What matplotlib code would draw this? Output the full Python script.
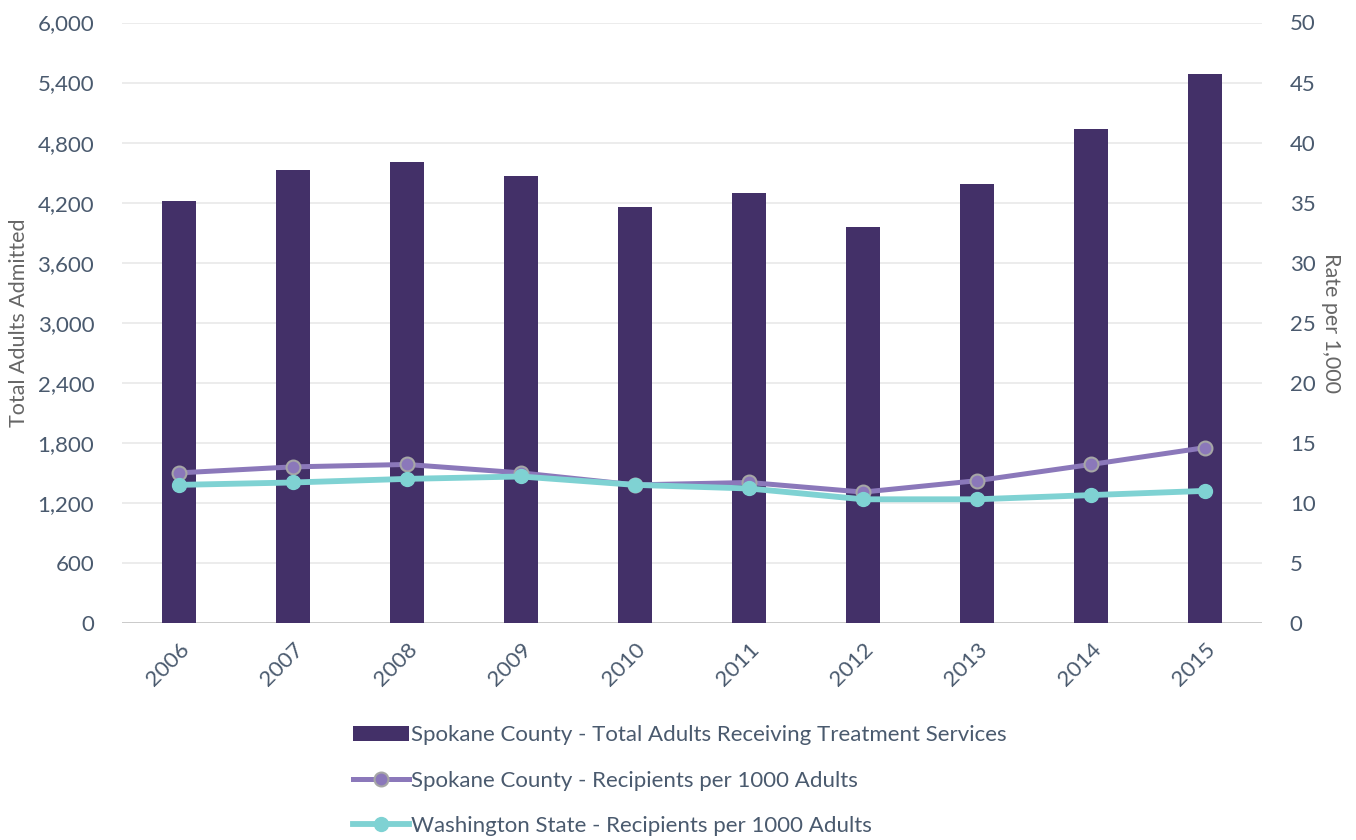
import matplotlib
matplotlib.use("Agg")
import matplotlib.pyplot as plt
import numpy as np

years = ["2006", "2007", "2008", "2009", "2010", "2011", "2012", "2013", "2014", "2015"]
total_adults = [4220, 4530, 4607, 4467, 4160, 4300, 3953, 4383, 4937, 5490]
spokane_rate = [12.5, 13.0, 13.2, 12.5, 11.5, 11.7, 10.9, 11.85, 13.2, 14.6]
wa_rate = [11.5, 11.7, 12.0, 12.2, 11.5, 11.2, 10.3, 10.3, 10.65, 11.0]

left_ticks = [0, 600, 1200, 1800, 2400, 3000, 3600, 4200, 4800, 5400, 6000]
right_ticks = [0, 5, 10, 15, 20, 25, 30, 35, 40, 45, 50]

bar_label = "Spokane County - Total Adults Receiving Treatment Services"
spk_label = "Spokane County - Recipients per 1000 Adults"
wa_label = "Washington State - Recipients per 1000 Adults"

plt.rcParams['font.family'] = ['Lato', 'DejaVu Sans']
tick_color = "#4A5A6E"
label_color = "#666666"
fs = 16

fig = plt.figure(figsize=(13.56, 8.4), dpi=100)
ax = fig.add_axes([122/1356, 1-623/840, (1262-122)/1356, (623-22.5)/840])
ax2 = ax.twinx()

x = np.arange(len(years))
bars = ax.bar(x, total_adults, width=0.30, color="#433068", zorder=2, label=bar_label)
ax.set_xlim(-0.5, len(years)-0.5)
ax.set_ylim(0, 6000)
ax.set_yticks(left_ticks)
ax.set_yticklabels([f"{v:,}" for v in left_ticks])
ax.grid(axis='y', color="#EBEBEB", linewidth=1.3, zorder=0)
ax.set_axisbelow(True)
ax.set_xticks(x)
ax.set_xticklabels(years, rotation=45, ha='right', rotation_mode='anchor')

l1, = ax2.plot(x, spokane_rate, color="#8B78BA", linewidth=3.6, marker='o', markersize=10,
               markerfacecolor="#8B78BA", markeredgecolor="#A6A6A6", markeredgewidth=1.5,
               label=spk_label, zorder=3)
l2, = ax2.plot(x, wa_rate, color="#7FD2D3", linewidth=4.2, marker='o', markersize=10,
               markerfacecolor="#7FD2D3", markeredgecolor="#7FD2D3",
               label=wa_label, zorder=4)
ax2.set_ylim(0, 50)
ax2.set_yticks(right_ticks)

for a in (ax, ax2):
    for s in a.spines.values():
        s.set_visible(False)
    a.tick_params(axis='both', length=0, labelsize=fs, labelcolor=tick_color)
ax.tick_params(axis='y', pad=20)
ax.tick_params(axis='x', pad=12)
ax2.tick_params(axis='y', pad=20)
ax.axhline(0, color="#C8C8C8", linewidth=1.3, zorder=1)

ax.set_ylabel("Total Adults Admitted", fontsize=15.5, color=label_color, labelpad=6)
ax2.set_ylabel("Rate per 1,000", fontsize=15.5, color=label_color, rotation=270, labelpad=18)

leg = fig.legend(handles=[bars, l1, l2], loc='upper left',
                 bbox_to_anchor=(342/1356, 1-714/840), frameon=False,
                 fontsize=fs, handlelength=2.5, handletextpad=0.1,
                 labelspacing=1.15, borderpad=0)
for t in leg.get_texts():
    t.set_color(tick_color)

fig.savefig("out.png", dpi=100)
